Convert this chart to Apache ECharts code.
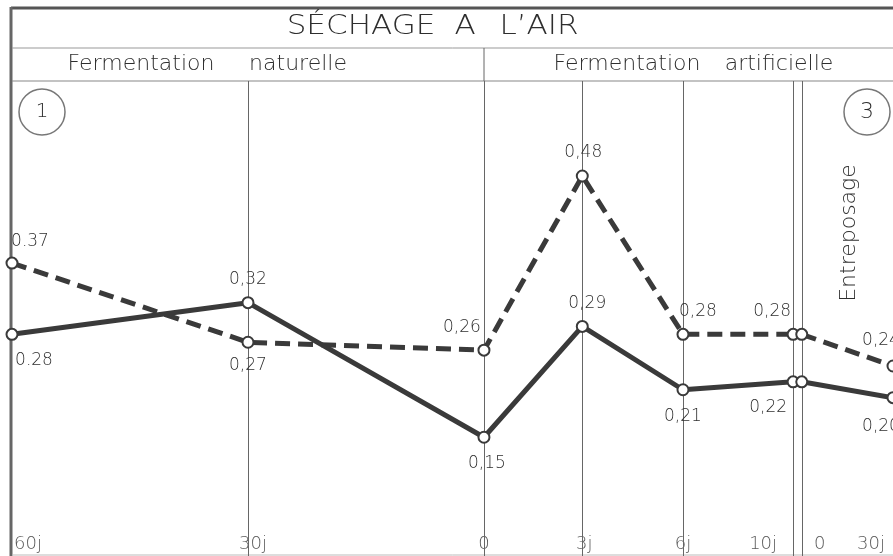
<!DOCTYPE html>
<html>
<head>
<meta charset="utf-8">
<script src="https://cdn.jsdelivr.net/npm/echarts@6/dist/echarts.min.js"></script>
<style>
html,body{margin:0;padding:0;background:#fff;}
#chart{width:893px;height:556px;}
</style>
</head>
<body>
<div id="chart"></div>
<script>
// ---- data ----
const stationLabels = ['60j', '30j', '0', '3j', '6j', '10j', '0', '30j'];
// station positions along the (piecewise) time axis
const stationPos = [0, 30, 60, 72.5, 85.3, 99.3, 100.4, 112];
const dashedValues = [0.37, 0.27, 0.26, 0.48, 0.28, 0.28, 0.28, 0.24];
const solidValues  = [0.28, 0.32, 0.15, 0.29, 0.21, 0.22, 0.22, 0.20];
const fermentIdx = [0, 1, 2, 3, 4, 5];
const storageIdx = [6, 7];
const labelledIdx = [0, 1, 2, 3, 4, 5, 7];

// ---- label placement (styles) ----
const dashedPlace = {0:['top',18,-2],1:['bottom',0,3],2:['top',-22,-3],3:['top',1,-3],4:['top',15,-3],5:['top',-21,-3],7:['top',-12,-5]};
const solidPlace  = {0:['bottom',22,6],1:['top',0,-3],2:['bottom',3,6],3:['top',5,-3],4:['bottom',0,7],5:['bottom',-25,6],7:['bottom',-12,9]};
const tickOffset  = [16, 5, 0, 2, 0, -30, 18, -22];

const INK = '#3a3a3a';
const TXT = '#2e2e2e';
const FONT = 'DejaVu Sans';

function fmt(v, i) {
  const s = v.toFixed(2);
  return i === 0 ? s : s.replace('.', ',');
}

function seg(vals, idxs, dashed, place) {
  return {
    type: 'line',
    silent: true,
    data: idxs.map(i => {
      const p = place[i];
      return {
        value: [stationPos[i], vals[i]],
        label: p && labelledIdx.includes(i) ? {
          show: true, position: p[0], offset: [p[1], p[2]],
          formatter: fmt(vals[i], i)
        } : { show: false }
      };
    }),
    symbol: 'circle',
    symbolSize: 11,
    itemStyle: { color: '#fff', borderColor: INK, borderWidth: 2 },
    lineStyle: { color: INK, width: 5, type: dashed ? [15, 8] : 'solid', cap: 'butt' },
    label: { color: TXT, fontFamily: FONT, fontWeight: 200, fontSize: 17 },
    z: 5
  };
}

const chart = echarts.init(document.getElementById('chart'), null, { renderer: 'canvas' });

const series = [
  {
    type: 'scatter',
    silent: true,
    data: stationPos.map((x, i) => ({
      value: [x, 0],
      label: { show: true, position: 'top', offset: [tickOffset[i], 3], formatter: stationLabels[i] }
    })),
    symbolSize: 1,
    itemStyle: { color: 'rgba(0,0,0,0)' },
    label: { color: TXT, fontFamily: FONT, fontWeight: 200, fontSize: 18 },
    markLine: {
      silent: true,
      symbol: ['none', 'none'],
      label: { show: false },
      lineStyle: { color: '#666', width: 1, type: 'solid' },
      data: [1, 2, 3, 4, 5, 6].map(i => ({ xAxis: stationPos[i] }))
    },
    z: 2
  },
  seg(dashedValues, fermentIdx, true, dashedPlace),
  seg(dashedValues, storageIdx, true, dashedPlace),
  seg(solidValues, fermentIdx, false, solidPlace),
  seg(solidValues, storageIdx, false, solidPlace)
];

const textStyle = (t, size) => ({ text: t, fontFamily: FONT, fontWeight: 200, fontSize: size, fill: TXT, align: 'center', verticalAlign: 'middle' });

chart.setOption({
  animation: false,
  backgroundColor: '#fff',
  grid: { left: 12, right: 0, top: 81, bottom: 0 },
  xAxis: { type: 'value', min: 0, max: 112, show: false },
  yAxis: { type: 'value', min: 0, max: 0.6, show: false },
  series: series,
  graphic: [
    { type: 'line', shape: { x1: 11, y1: 8, x2: 893, y2: 8 }, style: { stroke: '#555', lineWidth: 3 } },
    { type: 'line', shape: { x1: 11, y1: 7, x2: 11, y2: 556 }, style: { stroke: '#666', lineWidth: 3 } },
    { type: 'line', shape: { x1: 12, y1: 48, x2: 893, y2: 48 }, style: { stroke: '#999', lineWidth: 1 } },
    { type: 'line', shape: { x1: 12, y1: 81, x2: 893, y2: 81 }, style: { stroke: '#888', lineWidth: 1.2 } },
    { type: 'line', shape: { x1: 484, y1: 48, x2: 484, y2: 81 }, style: { stroke: '#666', lineWidth: 1 } },
    { type: 'line', shape: { x1: 12, y1: 555, x2: 893, y2: 555 }, style: { stroke: '#bbb', lineWidth: 1 } },
    { type: 'text', x: 361, y: 27, scaleX: 1.15, style: textStyle('SÉCHAGE', 27) },
    { type: 'text', x: 465, y: 27, scaleX: 1.15, style: textStyle('A', 27) },
    { type: 'text', x: 539, y: 27, scaleX: 1.15, style: textStyle('L’AIR', 27) },
    { type: 'text', x: 141, y: 64, style: textStyle('Fermentation', 22) },
    { type: 'text', x: 298, y: 64, style: textStyle('naturelle', 22) },
    { type: 'text', x: 627, y: 64, style: textStyle('Fermentation', 22) },
    { type: 'text', x: 779, y: 64, style: textStyle('artificielle', 22) },
    { type: 'circle', shape: { cx: 42, cy: 112, r: 23 }, style: { fill: 'none', stroke: '#777', lineWidth: 1.5 } },
    { type: 'text', x: 42, y: 112, style: textStyle('1', 20) },
    { type: 'circle', shape: { cx: 867, cy: 112, r: 23 }, style: { fill: 'none', stroke: '#777', lineWidth: 1.5 } },
    { type: 'text', x: 867, y: 112, style: textStyle('3', 22) },
    { type: 'text', x: 849, y: 233, rotation: Math.PI / 2, style: textStyle('Entreposage', 22) }
  ]
});
</script>
</body>
</html>
